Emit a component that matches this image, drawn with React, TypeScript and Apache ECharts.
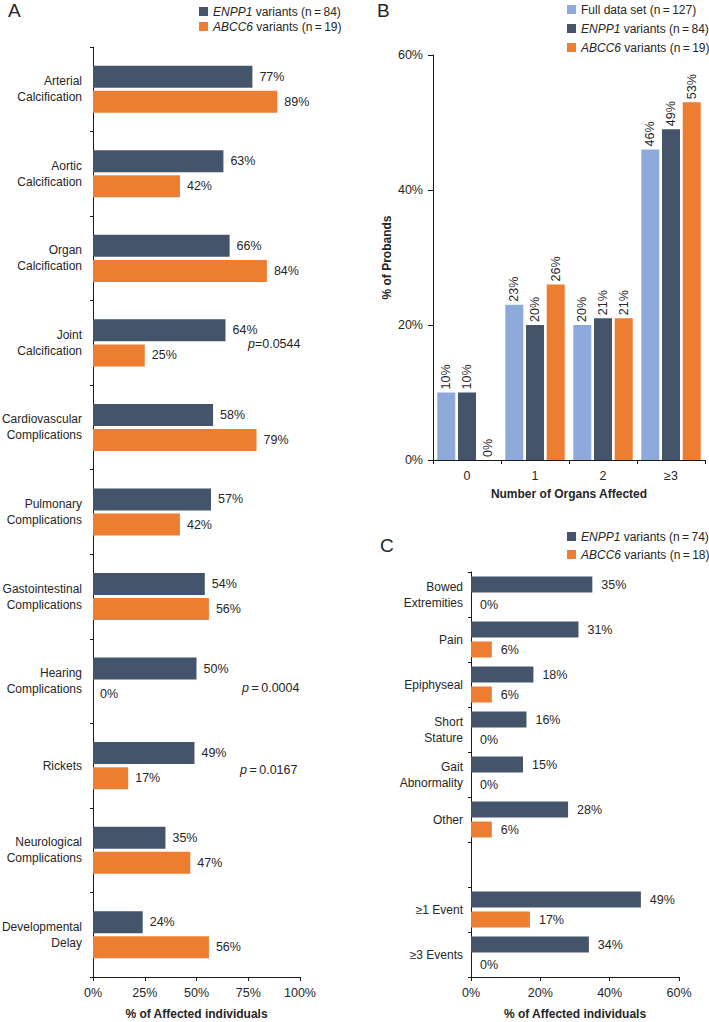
import React, { useEffect, useRef } from 'react';
import * as echarts from 'echarts';

const categoriesA = [
  'Arterial\nCalcification',
  'Aortic\nCalcification',
  'Organ\nCalcification',
  'Joint\nCalcification',
  'Cardiovascular\nComplications',
  'Pulmonary\nComplications',
  'Gastointestinal\nComplications',
  'Hearing\nComplications',
  'Rickets',
  'Neurological\nComplications',
  'Developmental\nDelay',
];
const enpp1A = [77, 63, 66, 64, 58, 57, 54, 50, 49, 35, 24];
const abcc6A = [89, 42, 84, 25, 79, 42, 56, 0, 17, 47, 56];

const categoriesB = ['0', '1', '2', '≥3'];
const fullB = [10, 23, 20, 46];
const enpp1B = [10, 20, 21, 49];
const abcc6B = [0, 26, 21, 53];

const categoriesC = [
  'Bowed\nExtremities',
  'Pain',
  'Epiphyseal',
  'Short\nStature',
  'Gait\nAbnormality',
  'Other',
  '',
  '≥1 Event',
  '≥3 Events',
];
const enpp1C = [35, 31, 18, 16, 15, 28, null, 49, 34];
const abcc6C = [0, 6, 6, 0, 0, 6, null, 17, 0];

const pNotes = [
  { text: '=0.0544', x: 248, y: 344 },
  { text: '\u2009=\u20090.0004', x: 242, y: 688 },
  { text: '\u2009=\u20090.0167', x: 240, y: 770 },
];

const nameFullB = 'Full data set (n\u2009=\u2009127)';
const nameEnppA = 'ENPP1 variants (n\u2009=\u200984)';
const nameAbcA = 'ABCC6 variants (n\u2009=\u200919)';
const nameEnppC = 'ENPP1 variants (n\u2009=\u200974)';
const nameAbcC = 'ABCC6 variants (n\u2009=\u200918)';

const FONT = '"Liberation Sans", Arial, Helvetica, sans-serif';
const FS = 12;
const VFS = 12.5;
const DARK = '#44546a';
const ORANGE = '#ed7d31';
const LIGHT = '#8eaadb';
const TXT = '#262626';
const AXIS = '#1a1a1a';

export default function App() {
  const ref = useRef<HTMLDivElement>(null);
  useEffect(() => {
    if (!ref.current) return;
    const chart = echarts.init(ref.current, undefined, { renderer: 'svg' });

    const legendText = {
      fontFamily: FONT,
      fontSize: FS,
      color: TXT,
      lineHeight: 15,
      rich: {
        i: { fontFamily: FONT, fontSize: FS, color: TXT, fontStyle: 'italic', lineHeight: 15 },
      },
    };
    const legendFmt = (name: string) => name.replace(/^(ENPP1|ABCC6)/, '{i|$1}');
    const axisLine = { show: true, lineStyle: { color: AXIS, width: 1 } };
    const axisTick = { show: true, length: 4, lineStyle: { color: AXIS, width: 1 } };
    const valLabel = (dist: number) => ({
      show: true,
      position: 'right',
      distance: dist,
      formatter: '{c}%',
      fontFamily: FONT,
      fontSize: VFS,
      color: TXT,
    });
    const rotLabel = {
      show: true,
      position: 'top',
      rotate: 90,
      align: 'left',
      verticalAlign: 'middle',
      distance: 3,
      formatter: '{c}%',
      fontFamily: FONT,
      fontSize: VFS,
      color: TXT,
    };
    const titleStyle = { fontFamily: FONT, fontSize: FS, fontWeight: 'bold', color: TXT };
    const gridBase = { outerBoundsMode: 'none', containLabel: false };

    chart.setOption({
      animation: false,
      backgroundColor: '#ffffff',
      textStyle: { fontFamily: FONT },
      grid: [
        { ...gridBase, left: 93, top: 47, width: 207, height: 930 },
        { ...gridBase, left: 433, top: 55, width: 272, height: 405 },
        { ...gridBase, left: 471, top: 572, width: 208, height: 405 },
      ],
      legend: [
        {
          orient: 'vertical', left: 199, top: 4, itemWidth: 9, itemHeight: 9, itemGap: 0,
          icon: 'rect', data: [nameEnppA, nameAbcA], textStyle: legendText, formatter: legendFmt,
          selectedMode: false, padding: 0,
        },
        {
          orient: 'vertical', left: 567, top: 2, itemWidth: 9, itemHeight: 9, itemGap: 4,
          icon: 'rect', data: [nameFullB, nameEnppA, nameAbcA], textStyle: legendText, formatter: legendFmt,
          selectedMode: false, padding: 0,
        },
        {
          orient: 'vertical', left: 567, top: 529, itemWidth: 9, itemHeight: 9, itemGap: 3,
          icon: 'rect', data: [nameEnppC, nameAbcC], textStyle: legendText, formatter: legendFmt,
          selectedMode: false, padding: 0,
        },
      ],
      xAxis: [
        {
          type: 'value', gridIndex: 0, min: 0, max: 100, interval: 25,
          axisLine, axisTick, splitLine: { show: false },
          axisLabel: { formatter: '{value}%', fontFamily: FONT, fontSize: VFS, color: TXT, margin: 9 },
          name: '% of Affected individuals', nameLocation: 'middle', nameGap: 31, nameTextStyle: titleStyle,
        },
        {
          type: 'category', gridIndex: 1, data: categoriesB,
          axisLine, axisTick: { ...axisTick, alignWithLabel: false },
          axisLabel: { fontFamily: FONT, fontSize: VFS, color: TXT, margin: 9 },
          name: 'Number of Organs Affected', nameLocation: 'middle', nameGap: 28, nameTextStyle: titleStyle,
        },
        {
          type: 'value', gridIndex: 2, min: 0, max: 60, interval: 20,
          axisLine, axisTick, splitLine: { show: false },
          axisLabel: { formatter: '{value}%', fontFamily: FONT, fontSize: VFS, color: TXT, margin: 9 },
          name: '% of Affected individuals', nameLocation: 'middle', nameGap: 31, nameTextStyle: titleStyle,
        },
      ],
      yAxis: [
        {
          type: 'category', gridIndex: 0, data: categoriesA, inverse: true,
          axisLine, axisTick: { ...axisTick, length: 3 },
          axisLabel: { fontFamily: FONT, fontSize: FS, color: TXT, margin: 11, lineHeight: 16, align: 'right' },
        },
        {
          type: 'value', gridIndex: 1, min: 0, max: 60, interval: 20,
          axisLine, axisTick: { ...axisTick, length: 5 }, splitLine: { show: false },
          axisLabel: { formatter: '{value}%', fontFamily: FONT, fontSize: VFS, color: TXT, margin: 10 },
          name: '% of Probands', nameLocation: 'middle', nameRotate: 90, nameGap: 40, nameTextStyle: titleStyle,
        },
        {
          type: 'category', gridIndex: 2, data: categoriesC, inverse: true,
          axisLine, axisTick: { ...axisTick, length: 3 },
          axisLabel: { fontFamily: FONT, fontSize: FS, color: TXT, margin: 8, lineHeight: 16, align: 'right' },
        },
      ],
      series: [
        {
          type: 'bar', name: nameEnppA, xAxisIndex: 0, yAxisIndex: 0, data: enpp1A,
          barWidth: 22, barGap: '14%', itemStyle: { color: DARK }, label: valLabel(7),
        },
        {
          type: 'bar', name: nameAbcA, xAxisIndex: 0, yAxisIndex: 0, data: abcc6A,
          barWidth: 22, barGap: '14%', itemStyle: { color: ORANGE }, label: valLabel(7),
        },
        {
          type: 'bar', name: nameFullB, xAxisIndex: 1, yAxisIndex: 1, data: fullB,
          barWidth: 18, barGap: '15%', itemStyle: { color: LIGHT }, label: rotLabel,
        },
        {
          type: 'bar', name: nameEnppA, xAxisIndex: 1, yAxisIndex: 1, data: enpp1B,
          barWidth: 18, barGap: '15%', itemStyle: { color: DARK }, label: rotLabel,
        },
        {
          type: 'bar', name: nameAbcA, xAxisIndex: 1, yAxisIndex: 1, data: abcc6B,
          barWidth: 18, barGap: '15%', itemStyle: { color: ORANGE }, label: rotLabel,
        },
        {
          type: 'bar', name: nameEnppC, xAxisIndex: 2, yAxisIndex: 2, data: enpp1C,
          barWidth: 16, barGap: '25%', itemStyle: { color: DARK }, label: valLabel(9),
        },
        {
          type: 'bar', name: nameAbcC, xAxisIndex: 2, yAxisIndex: 2, data: abcc6C,
          barWidth: 16, barGap: '25%', itemStyle: { color: ORANGE }, label: valLabel(9),
        },
      ],
      graphic: [
        { type: 'text', left: 8, top: 1, style: { text: 'A', fontFamily: FONT, fontSize: 19, fill: TXT } },
        { type: 'text', left: 377, top: 1, style: { text: 'B', fontFamily: FONT, fontSize: 19, fill: TXT } },
        { type: 'text', left: 380, top: 536, style: { text: 'C', fontFamily: FONT, fontSize: 19, fill: TXT } },
        ...pNotes.map((p) => ({
          type: 'text',
          x: p.x,
          y: p.y,
          style: {
            text: '{i|p}' + p.text,
            fontFamily: FONT,
            fontSize: VFS,
            fill: TXT,
            verticalAlign: 'middle',
            rich: { i: { fontFamily: FONT, fontSize: VFS, fontStyle: 'italic', fill: TXT } },
          },
        })),
      ],
    });
    return () => chart.dispose();
  }, []);
  return <div ref={ref} style={{ position: 'absolute', left: 0, top: 0, width: 709, height: 1022 }} />;
}
